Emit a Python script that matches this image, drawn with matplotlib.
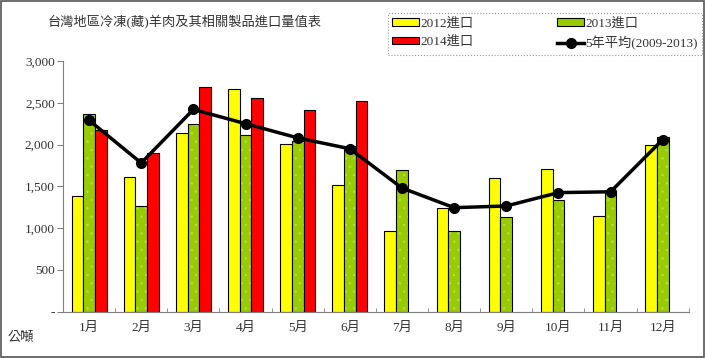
import numpy as np
import matplotlib
matplotlib.use('Agg')
import matplotlib.pyplot as plt
from matplotlib.patches import Rectangle

plt.rcParams['font.family'] = ['Liberation Serif', 'Noto Sans CJK TC']
plt.rcParams['hatch.linewidth'] = 0.5

months = ['1月', '2月', '3月', '4月', '5月', '6月',
          '7月', '8月', '9月', '10月', '11月', '12月']
imp_2012 = [1380, 1610, 2140, 2660, 2010, 1520, 970, 1240, 1600, 1710, 1145, 1990]
imp_2013 = [2370, 1265, 2250, 2120, 2040, 1980, 1700, 960, 1130, 1335, 1440, 2090]
imp_2014 = [2180, 1900, 2690, 2560, 2410, 2520]
avg_5yr = [2290, 1780, 2420, 2250, 2080, 1950, 1480, 1245, 1265, 1425, 1435, 2060]

yticks = [0, 500, 1000, 1500, 2000, 2500, 3000]
ytick_labels = ['-', '500', '1,000', '1,500', '2,000', '2,500', '3,000']

fig = plt.figure(figsize=(7.05, 3.58), dpi=100)
ax = fig.add_axes([0.0894, 0.1293, 0.8876, 0.7003])

x = np.arange(len(months))
w = 0.225

ax.bar(x - w, imp_2012, w, color='#FFFF00', edgecolor='black', linewidth=0.8,
       label='2012進口', zorder=2)
ax.bar(x, imp_2013, w, color='#99CC00', edgecolor='#b8dc50', linewidth=0,
       hatch='..', zorder=2)
ax.bar(x, imp_2013, w, fill=False, edgecolor='black', linewidth=0.8, zorder=2)
ax.bar(x[:len(imp_2014)] + w, imp_2014, w, color='#FF0000', edgecolor='black',
       linewidth=0.8, label='2014進口', zorder=2)
ax.plot(x, avg_5yr, color='black', linewidth=2.5, marker='o', markersize=7,
        label='5年平均(2009-2013)', zorder=3)

# legend proxy for the dotted green bar
green_proxy = Rectangle((0, 0), 1, 1, facecolor='#99CC00', edgecolor='black',
                        linewidth=0.8)

ax.set_xlim(-0.5, len(months) - 0.5)
ax.set_ylim(0, 3000)
ax.set_yticks(yticks)
ax.set_yticklabels(ytick_labels, fontsize=9.5, color='#333333')
ax.set_xticks(x)
ax.set_xticklabels(months, fontsize=9.5, color='#333333')
ax.set_xticks(np.arange(len(months) + 1) - 0.5, minor=True)
ax.tick_params(axis='x', which='major', length=0, pad=7)
ax.tick_params(axis='x', which='minor', length=3, direction='in', color='#808080')
ax.tick_params(axis='y', length=4, direction='out', color='#808080', pad=2)

for s in ['top', 'right']:
    ax.spines[s].set_visible(False)
ax.spines['left'].set_color('#808080')
ax.spines['bottom'].set_color('#808080')
ax.spines['bottom'].set_linestyle((0, (1, 0.5)))

handles, labels = ax.get_legend_handles_labels()
hmap = dict(zip(labels, handles))
# column-major order so rows read 2012/2013 then 2014/5yr
leg = fig.legend([hmap['2012進口'], hmap['2014進口'], green_proxy, hmap['5年平均(2009-2013)']],
                 ['2012進口', '2014進口', '2013進口', '5年平均(2009-2013)'],
                 loc='upper left', bbox_to_anchor=(0.550, 0.854, 0.446, 0.1105),
                 mode='expand', ncol=2, fontsize=9.5, frameon=True, fancybox=False,
                 handlelength=2.0, handleheight=0.5, handletextpad=0.1,
                 borderpad=0.35, labelspacing=0.45, borderaxespad=0)
leg.get_frame().set_edgecolor('#808080')
leg.get_frame().set_linestyle(':')
leg.get_frame().set_linewidth(0.8)
for t in leg.get_texts():
    t.set_color('#333333')

fig.text(0.068, 0.938, '台灣地區冷凍(藏)羊肉及其相關製品進口量值表', fontsize=9.5,
         color='#333333', va='center')
fig.text(0.011, 0.055, '公噸', fontsize=9.5, color='#333333', va='center')

fig.patches.append(Rectangle((0.001, 0.002), 0.997, 0.995, transform=fig.transFigure,
                             fill=False, edgecolor='#555555', linewidth=1.2))

fig.savefig('out.png', dpi=100)
